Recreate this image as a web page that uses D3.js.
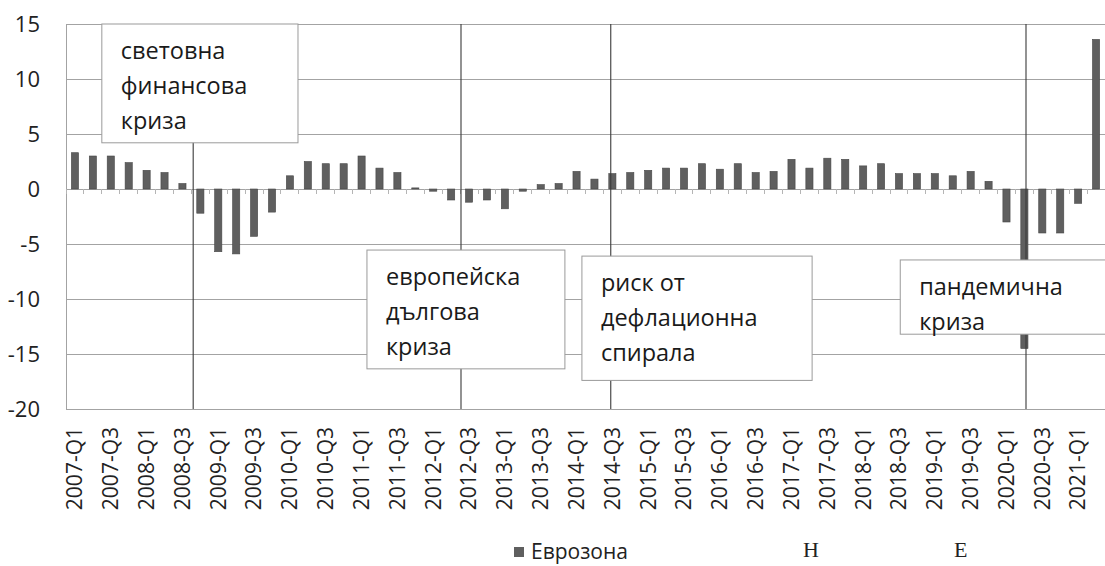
<!DOCTYPE html>
<html>
<head>
<meta charset="utf-8">
<script src="https://cdn.jsdelivr.net/npm/d3@7"></script>
<style>
  html, body { margin: 0; padding: 0; background: #fff; }
  svg { display: block; font-family: "Open Sans", "Noto Sans", sans-serif; }
</style>
</head>
<body>
<svg id="chart" width="1105" height="566"></svg>
<script>
// ---------- DATA ----------
const categories = [
  "2007-Q1","2007-Q2","2007-Q3","2007-Q4",
  "2008-Q1","2008-Q2","2008-Q3","2008-Q4",
  "2009-Q1","2009-Q2","2009-Q3","2009-Q4",
  "2010-Q1","2010-Q2","2010-Q3","2010-Q4",
  "2011-Q1","2011-Q2","2011-Q3","2011-Q4",
  "2012-Q1","2012-Q2","2012-Q3","2012-Q4",
  "2013-Q1","2013-Q2","2013-Q3","2013-Q4",
  "2014-Q1","2014-Q2","2014-Q3","2014-Q4",
  "2015-Q1","2015-Q2","2015-Q3","2015-Q4",
  "2016-Q1","2016-Q2","2016-Q3","2016-Q4",
  "2017-Q1","2017-Q2","2017-Q3","2017-Q4",
  "2018-Q1","2018-Q2","2018-Q3","2018-Q4",
  "2019-Q1","2019-Q2","2019-Q3","2019-Q4",
  "2020-Q1","2020-Q2","2020-Q3","2020-Q4",
  "2021-Q1","2021-Q2"
];
const eurozone = [
  3.3, 3.0, 3.0, 2.4,
  1.7, 1.5, 0.5, -2.2,
  -5.7, -5.9, -4.3, -2.1,
  1.2, 2.5, 2.3, 2.3,
  3.0, 1.9, 1.5, 0.1,
  -0.2, -1.0, -1.2, -1.0,
  -1.8, -0.2, 0.4, 0.5,
  1.6, 0.9, 1.4, 1.5,
  1.7, 1.9, 1.9, 2.3,
  1.8, 2.3, 1.5, 1.6,
  2.7, 1.9, 2.8, 2.7,
  2.1, 2.3, 1.4, 1.4,
  1.4, 1.2, 1.6, 0.7,
  -3.0, -14.5, -4.0, -4.0,
  -1.3, 13.6
];
const yTicks = [15, 10, 5, 0, -5, -10, -15, -20];
const xTickLabels = categories.filter((c, i) => i % 2 === 0);
const seriesName = "Еврозона";

// event markers: category + fraction within the category slot
const eventLines = [
  { cat: "2008-Q4", frac: 0.1 },
  { cat: "2012-Q3", frac: 0.05 },
  { cat: "2014-Q3", frac: 0.41 },
  { cat: "2020-Q2", frac: 0.59 }
];
// annotation boxes in data space (category index units, value units)
const annotations = [
  { lines: ["световна", "финансова", "криза"], x0: 2.0, x1: 12.95, y0: 15, y1: 4.2 },
  { lines: ["европейска", "дългова", "криза"], x0: 16.8, x1: 27.85, y0: -5.55, y1: -16.35 },
  { lines: ["риск от", "дефлационна", "спирала"], x0: 28.8, x1: 41.65, y0: -6.1, y1: -17.4 },
  { lines: ["пандемична", "криза"], x0: 46.57, x1: 58.5, y0: -6.45, y1: -13.2 }
];
const footerFragments = ["Н", "Е"];

// ---------- LAYOUT ----------
const svg = d3.select("#chart");
const pLeft = 66, pRight = 1105, pTop = 24, pBottom = 409;

const x = d3.scaleBand().domain(categories).range([pLeft, pRight]).padding(0);
const step = x.step();
const xIdx = d3.scaleLinear().domain([0, categories.length]).range([pLeft, pRight]);
const y = d3.scaleLinear().domain([-20, 15]).range([pBottom, pTop]);

const gridColor = "#a3a3a3";

// horizontal gridlines
svg.append("g").selectAll("line").data(yTicks).join("line")
  .attr("x1", pLeft).attr("x2", pRight)
  .attr("y1", d => y(d)).attr("y2", d => y(d))
  .attr("stroke", gridColor).attr("stroke-width", 1)
  .attr("shape-rendering", "crispEdges");

// left axis line
svg.append("line")
  .attr("x1", pLeft).attr("x2", pLeft).attr("y1", pTop).attr("y2", pBottom)
  .attr("stroke", gridColor).attr("shape-rendering", "crispEdges");

// y labels
svg.append("g").selectAll("text").data(yTicks).join("text")
  .attr("x", 40).attr("y", d => y(d)).attr("dy", "0.35em")
  .attr("text-anchor", "end").attr("font-size", 22).attr("fill", "#222")
  .text(d => d);

// small ticks on zero line at category boundaries
svg.append("g").selectAll("line").data(categories).join("line")
  .attr("x1", d => x(d)).attr("x2", d => x(d))
  .attr("y1", y(0)).attr("y2", y(0) + 5)
  .attr("stroke", "#b5b5b5").attr("shape-rendering", "crispEdges");

// bars
const barW = step * 0.4;
svg.append("g").selectAll("rect").data(eurozone).join("rect")
  .attr("x", (d, i) => x(categories[i]) + (step - barW) / 2)
  .attr("y", d => y(Math.max(0, d)))
  .attr("width", barW)
  .attr("height", d => Math.abs(y(d) - y(0)))
  .attr("fill", "#5f5f5f")
  .attr("stroke", "#474747").attr("stroke-width", 0.6);

// event vertical lines
svg.append("g").selectAll("line").data(eventLines).join("line")
  .attr("x1", d => x(d.cat) + d.frac * step)
  .attr("x2", d => x(d.cat) + d.frac * step)
  .attr("y1", pTop).attr("y2", pBottom)
  .attr("stroke", "#3a3a3a").attr("stroke-width", 1.1);

// annotation boxes
const ann = svg.append("g").selectAll("g").data(annotations).join("g");
ann.append("rect")
  .attr("x", d => xIdx(d.x0)).attr("y", d => y(d.y0))
  .attr("width", d => xIdx(d.x1) - xIdx(d.x0))
  .attr("height", d => y(d.y1) - y(d.y0))
  .attr("fill", "#fff").attr("stroke", "#9a9a9a").attr("stroke-width", 1);
ann.each(function(d) {
  const g = d3.select(this);
  d.lines.forEach((t, i) => {
    g.append("text")
      .attr("x", xIdx(d.x0) + 19)
      .attr("y", y(d.y0) + 35 + i * 35)
      .attr("font-size", 23.5).attr("fill", "#1a1a1a")
      .text(t);
  });
});

// x tick labels (rotated)
svg.append("g").selectAll("text").data(xTickLabels).join("text")
  .attr("transform", d => `translate(${x(d) + step / 2},427) rotate(-90)`)
  .attr("dy", "0.35em")
  .attr("text-anchor", "end").attr("font-size", 21).attr("fill", "#222")
  .text(d => d);

// legend
const lg = svg.append("g").attr("transform", "translate(514,552)");
lg.append("rect").attr("x", 0).attr("y", -5).attr("width", 10).attr("height", 10)
  .attr("fill", "#5f5f5f");
lg.append("text").attr("x", 17).attr("y", 0).attr("dy", "0.35em")
  .attr("font-size", 21).attr("fill", "#222").text(seriesName);

// serif text fragments at the bottom edge
svg.append("text").attr("x", 803).attr("y", 557)
  .attr("font-family", "Liberation Serif, serif").attr("font-size", 22)
  .attr("fill", "#222").text(footerFragments[0]);
svg.append("text").attr("x", 954).attr("y", 557)
  .attr("font-family", "Liberation Serif, serif").attr("font-size", 22)
  .attr("fill", "#222").text(footerFragments[1]);
</script>
</body>
</html>
